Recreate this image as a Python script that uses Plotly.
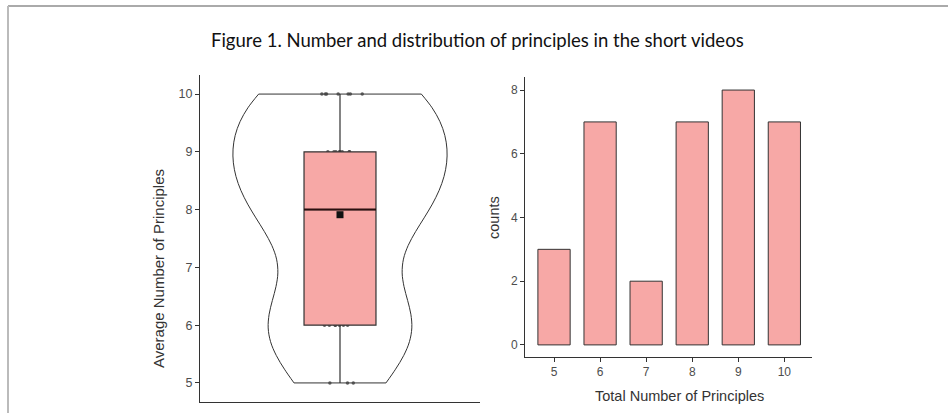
import numpy as np
import plotly.graph_objects as go

# ---- data ----
principles = [5, 6, 7, 8, 9, 10]
counts = [3, 7, 2, 7, 8, 7]
title_text = "Figure 1. Number and distribution of principles in the short videos"
left_ytitle = "Average Number of Principles"
right_xtitle = "Total Number of Principles"
right_ytitle = "counts"

values = np.repeat(principles, counts)
mean_val = float(np.mean(values))
median_val = float(np.median(values))

W, H = 948, 413
def px_x(p): return p / W
def px_y(p): return 1 - p / H

PINK = "#F7A8A6"
DARK = "#333333"
TICK = "#4d4d4d"
FONT = "Arial"
BOX_W = 0.257

fig = go.Figure()

# violin outline with points
fig.add_trace(go.Violin(
    x=np.zeros(len(values)), y=values, xaxis="x", yaxis="y",
    spanmode="hard", bandwidth=0.745, scalemode="width", width=0.764,
    fillcolor="rgba(0,0,0,0)", line=dict(color=DARK, width=1),
    points="all", pointpos=0, jitter=0.35,
    marker=dict(color="#444444", size=3.5, opacity=0.85),
    box_visible=False, meanline_visible=False, hoverinfo="skip",
    showlegend=False,
))
# box on top
fig.add_trace(go.Box(
    x=np.zeros(len(values)), y=values, xaxis="x", yaxis="y",
    width=BOX_W, whiskerwidth=0, fillcolor=PINK,
    line=dict(color=DARK, width=1.2), boxpoints=False,
    quartilemethod="linear", showlegend=False, hoverinfo="skip",
))
# thicker median line
fig.add_trace(go.Scatter(
    x=[-BOX_W / 2, BOX_W / 2], y=[median_val, median_val], xaxis="x", yaxis="y",
    mode="lines", line=dict(color="#2a0f0f", width=2),
    showlegend=False, hoverinfo="skip",
))
# mean marker
fig.add_trace(go.Scatter(
    x=[0], y=[mean_val], xaxis="x", yaxis="y", mode="markers",
    marker=dict(symbol="square", size=7, color="#111111"),
    showlegend=False, hoverinfo="skip",
))

# bar chart
fig.add_trace(go.Bar(
    x=principles, y=counts, xaxis="x2", yaxis="y2", width=0.7,
    marker=dict(color=PINK, line=dict(color=DARK, width=1)),
    showlegend=False, hoverinfo="skip",
))

axis_common = dict(
    showgrid=False, zeroline=False, showline=True, linecolor=DARK, linewidth=1,
    ticks="outside", ticklen=4, tickcolor=DARK,
)

fig.update_layout(
    width=W, height=H,
    margin=dict(l=0, r=0, t=0, b=0),
    paper_bgcolor="white", plot_bgcolor="white",
    font=dict(family=FONT, color=TICK),
    xaxis=dict(domain=[px_x(200), px_x(480)], range=[-0.5, 0.5],
               showgrid=False, zeroline=False, showline=True, linecolor=DARK,
               linewidth=1, showticklabels=False, ticks=""),
    yaxis=dict(domain=[px_y(402), px_y(75)], range=[4.67, 10.33],
               tickvals=principles, tickfont=dict(family=FONT, size=12.5, color=TICK),
               anchor="x", **axis_common),
    xaxis2=dict(domain=[px_x(525), px_x(812)], range=[4.37, 10.6],
                tickvals=principles, tickfont=dict(family=FONT, size=12, color=TICK),
                anchor="y2", **axis_common),
    yaxis2=dict(domain=[px_y(357), px_y(77)], range=[-0.38, 8.41],
                tickvals=[0, 2, 4, 6, 8], tickfont=dict(family=FONT, size=12, color=TICK),
                anchor="x2", **axis_common),
    shapes=[
        dict(type="line", xref="paper", yref="paper", x0=px_x(8), x1=1,
             y0=px_y(6), y1=px_y(6), line=dict(color="#aaaaaa", width=2)),
        dict(type="line", xref="paper", yref="paper", x0=px_x(8), x1=px_x(8),
             y0=px_y(6), y1=0, line=dict(color="#bbbbbb", width=2)),
    ],
    annotations=[
        dict(text=title_text, xref="paper", yref="paper", x=px_x(477), y=px_y(40),
             showarrow=False, xanchor="center", yanchor="middle",
             font=dict(family="Lato", size=18.5, color="#111111")),
        dict(text=left_ytitle, xref="paper", yref="paper", x=px_x(158), y=px_y(269),
             showarrow=False, textangle=-90, xanchor="center", yanchor="middle",
             font=dict(family=FONT, size=15, color="#333333")),
        dict(text=right_ytitle, xref="paper", yref="paper", x=px_x(494), y=px_y(217),
             showarrow=False, textangle=-90, xanchor="center", yanchor="middle",
             font=dict(family=FONT, size=14.5, color="#333333")),
        dict(text=right_xtitle, xref="paper", yref="paper", x=px_x(679), y=px_y(396),
             showarrow=False, xanchor="center", yanchor="middle",
             font=dict(family=FONT, size=14.5, color="#333333")),
    ],
)

fig.write_html("out.html", config={"displayModeBar": False},
               post_script="document.body.style.margin='0px';")
